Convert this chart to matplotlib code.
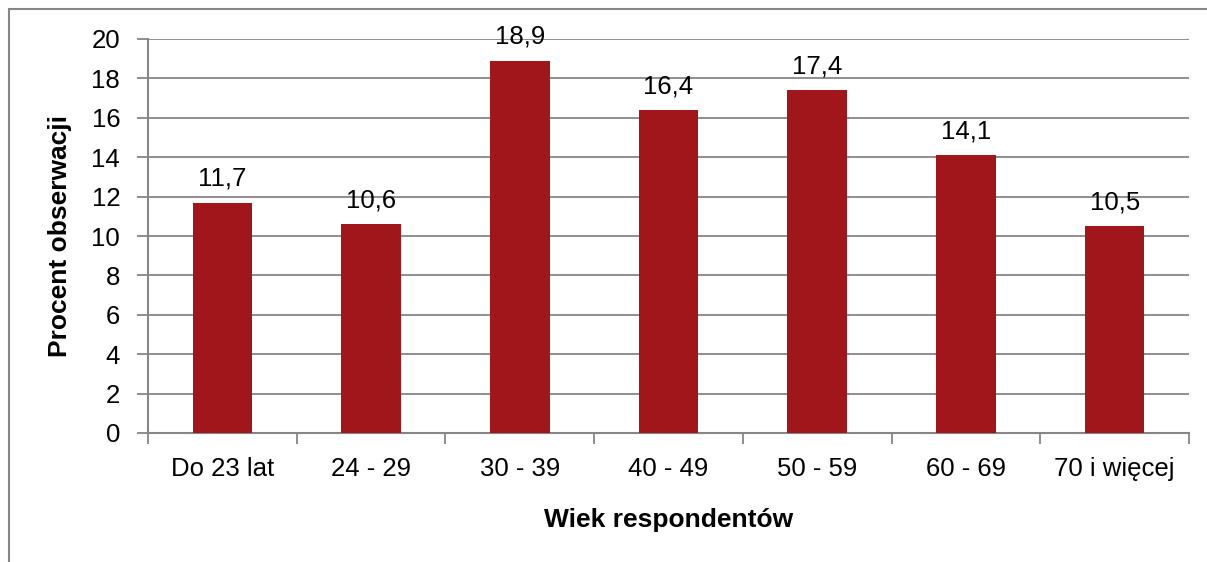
import numpy as np
import matplotlib.pyplot as plt
from matplotlib.patches import Rectangle

# Data
categories = ["Do 23 lat", "24 - 29", "30 - 39", "40 - 49", "50 - 59", "60 - 69", "70 i więcej"]
values = [11.7, 10.6, 18.9, 16.4, 17.4, 14.1, 10.5]
labels = ["11,7", "10,6", "18,9", "16,4", "17,4", "14,1", "10,5"]

plt.rcParams["font.family"] = ["Liberation Sans", "DejaVu Sans"]

fig = plt.figure(figsize=(12.07, 5.62), dpi=100)
ax = fig.add_axes([148 / 1207, 1 - 433 / 562, (1189 - 148) / 1207, (433 - 39) / 562])

# outer frame of the chart
fig.patches.append(Rectangle((9 / 1207, -0.1), 1.2, (562 - 9) / 562 + 0.1,
                             transform=fig.transFigure, fill=False,
                             edgecolor="#868686", lw=1.5))

x = np.arange(len(categories))
ax.bar(x, values, width=0.4, color="#A0161B", zorder=3)
for xi, v, lab in zip(x, values, labels):
    ax.text(xi, v + 0.6, lab, ha="center", va="bottom", fontsize=18.5)

ax.set_xlim(-0.5, len(categories) - 0.5)
ax.set_ylim(0, 20)
ax.set_yticks(np.arange(0, 21, 2))
ax.yaxis.grid(True, color="#868686", lw=1.3, zorder=0)

ax.set_xticks(x)
ax.set_xticklabels(categories, fontsize=18.5)
ax.set_xticks(np.arange(-0.5, len(categories)), minor=True)
ax.tick_params(axis="x", which="major", length=0, pad=17)
ax.tick_params(axis="x", which="minor", length=8, width=1.3, color="#868686")
ax.tick_params(axis="y", length=8, width=1.3, color="#868686", labelsize=18.5, pad=12)

for s in ["top", "right"]:
    ax.spines[s].set_visible(False)
for s in ["left", "bottom"]:
    ax.spines[s].set_color("#868686")
    ax.spines[s].set_linewidth(1.5)

ax.set_xlabel("Wiek respondentów", fontsize=19, fontweight="bold", labelpad=20)
ax.set_ylabel("Procent obserwacji", fontsize=19, fontweight="bold", labelpad=14)

fig.savefig("out.png", dpi=100)
